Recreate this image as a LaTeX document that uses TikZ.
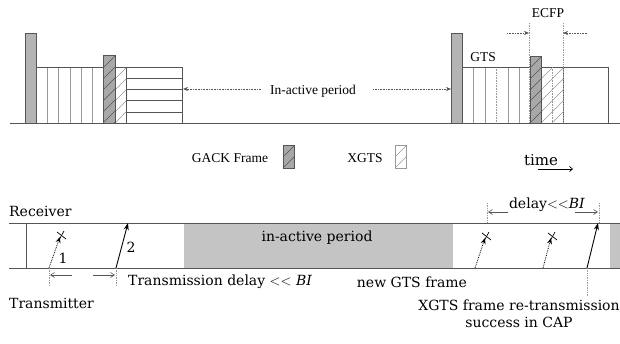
\documentclass[tikz,border=0pt]{standalone}
\usepackage{fontspec}
\setmainfont{Liberation Serif}
\newfontfamily\bigserif{DejaVu Serif}
\usetikzlibrary{arrows.meta}
\definecolor{edge}{HTML}{555555}
\definecolor{thin}{HTML}{999999}
\definecolor{barfill}{HTML}{B4B4B4}
\definecolor{ackfill}{HTML}{A8A8A8}
\definecolor{bandfill}{HTML}{C4C4C4}
\tikzset{
  frameline/.style={draw=edge, line width=0.9pt},
  slotline/.style={draw=thin, line width=0.6pt},
  slotdot/.style={draw=thin, line width=0.6pt, densely dotted},
  guide/.style={draw=thin, line width=0.7pt, densely dotted},
  guidearrow/.style={draw=edge, line width=0.6pt, densely dotted, -{Stealth[length=5pt,width=4pt]}},
  solidarrow/.style={draw=edge, line width=0.6pt, -{Straight Barb[length=4pt,width=5pt]}},
  topfont/.style={font=\fontsize{13.5}{15}\selectfont, inner sep=1pt},
  botfont/.style={font=\bigserif\fontsize{14}{17}\selectfont, inner sep=1pt},
  sendfail/.style={draw=black, line width=0.8pt, densely dotted, -{Stealth[length=6pt,width=5pt]}},
  sendok/.style={draw=black, line width=0.9pt, -{Stealth[length=7pt,width=5pt]}},
  cross/.style={draw=black, line width=0.7pt},
}
% hatched rectangle: corners (#1,#2)-(#3,#4), fill #5, hatch colour #6
\newcommand{\hatchbox}[6]{%
  \fill[#5] (#1,#2) rectangle (#3,#4);
  \begin{scope}
    \clip (#1,#2) rectangle (#3,#4);
    \foreach \k in {-44,-33,...,88} {
      \draw[draw=#6, line width=0.5pt] (#1,#4-\k) -- ++(40,-40);
    }
  \end{scope}
  \draw[frameline] (#1,#2) rectangle (#3,#4);
}
\begin{document}
\begin{tikzpicture}[x=1pt, y=-1pt]
\useasboundingbox (0,0) rectangle (620,343);
\fill[white] (0,0) rectangle (620,343);

% ---------- superframe view ----------
\draw[frameline] (10,123) -- (620,123);

% first active part
\fill[barfill] (25,33) rectangle (36,123);
\draw[frameline] (25,33) rectangle (36,123);
\foreach \x in {47,58,70,81,92} \draw[slotline] (\x,67) -- (\x,123);
\draw[frameline] (36,67) -- (103,67);
\hatchbox{103}{55}{115}{123}{ackfill}{edge}
\hatchbox{115}{67}{126}{123}{white}{thin}
\draw[frameline] (126,67) rectangle (182,123);
\foreach \y in {78,89,100,112} \draw[frameline] (126,\y) -- (182,\y);

% in-active period marker
\node[topfont] (inact) at (313,91) {In-active period};
\coordinate (inL) at (183,89);
\coordinate (inR) at (451,89);
\draw[guidearrow] (inact.west) ++(-8,-2) coordinate (inLs) -- (inL);
\draw[guidearrow] (inact.east) ++(16,-2) coordinate (inRs) -- (inR);

% second active part
\fill[barfill] (451,33) rectangle (462,123);
\draw[frameline] (451,33) rectangle (462,123);
\foreach \x in {473,485,508,519} \draw[slotline] (\x,67) -- (\x,123);
\draw[slotdot] (496,67) -- (496,123);
\draw[frameline] (462,67) -- (530,67);
\hatchbox{530}{56}{541}{123}{ackfill}{edge}
\hatchbox{541}{67}{563}{123}{white}{thin}
\draw[slotdot] (552,67) -- (552,123);
\draw[frameline] (563,67) rectangle (608,123);
\node[topfont] (gts) at (483,57) {GTS};

% ECFP extent
\coordinate (ecL) at (529,33);
\coordinate (ecR) at (563,33);
\draw[guide] (529,23) -- (529,123);
\draw[guide] (563,23) -- (563,123);
\coordinate (ecLs) at (507,33);
\coordinate (ecRs) at (587,33);
\draw[guidearrow] (ecLs) -- (ecL);
\draw[guidearrow] (ecRs) -- (ecR);
\node[topfont] (ecfp) at (548,13) {ECFP};

% legend
\node[topfont] (lgack) at (230,158) {GACK Frame};
\hatchbox{283}{145}{294}{168}{ackfill}{edge}
\node[topfont] (lxgts) at (365,158) {XGTS};
\begin{scope}
  \fill[white] (395,145) rectangle (406,168);
  \clip (395,145) rectangle (406,168);
  \draw[draw=thin, line width=0.5pt] (395,168) -- ++(40,-40);
  \draw[draw=thin, line width=0.5pt] (395,157) -- ++(40,-40);
\end{scope}
\draw[draw=thin, line width=0.8pt] (395,145) rectangle (406,168);
\node[botfont, font=\bigserif\fontsize{15}{18}\selectfont] (time) at (541,160) {time};
\coordinate (tA) at (538,169);
\coordinate (tB) at (573,169);
\draw[draw=black, line width=0.7pt, -{Straight Barb[length=3pt,width=5pt]}] (tA) -- (tB);

% ---------- transmission timeline ----------
\fill[bandfill] (184,223) rectangle (453,268);
\fill[bandfill] (610,223) rectangle (620,268);
\draw[frameline] (9,223) -- (620,223);
\draw[frameline] (9,268) -- (620,268);
\draw[frameline] (26,223) -- (26,268);

\node[botfont, anchor=west] (rx) at (8,211) {Receiver};
\node[botfont, anchor=west] (tx) at (8,303) {Transmitter};
\node[botfont] (band) at (317,238) {in-active period};

% first attempt fails, second succeeds
\coordinate (s1) at (49,268);
\coordinate (e1) at (60,237);
\draw[sendfail] (s1) -- (e1);
\draw[cross] (57,232) -- (66,239);
\draw[cross] (59,240) -- (64,231);
\node[botfont] (n1) at (63,258) {1};

\coordinate (s2) at (116,268);
\coordinate (e2) at (128,223);
\draw[sendok] (s2) -- (e2);
\node[botfont] (n2) at (131,247) {2};

% transmission delay
\draw[guide] (49,268) -- (49,286);
\draw[guide] (116,268) -- (116,286);
\coordinate (d1) at (72,275);
\coordinate (d1e) at (50,275);
\coordinate (d2) at (93,275);
\coordinate (d2e) at (115,275);
\draw[solidarrow] (d1) -- (d1e);
\draw[solidarrow] (d2) -- (d2e);
\node[botfont, anchor=west] (tdelay) at (127,282) {Transmission delay $<<$ \textit{BI}};

% later failed GTS frames
\coordinate (s3) at (475,268);
\coordinate (e3) at (485,238);
\draw[sendfail] (s3) -- (e3);
\draw[cross] (482,233) -- (491,240);
\draw[cross] (484,241) -- (489,232);
\coordinate (s4) at (543,268);
\coordinate (e4) at (551,238);
\draw[sendfail] (s4) -- (e4);
\draw[cross] (548,233) -- (557,240);
\draw[cross] (550,241) -- (555,232);
\node[botfont] (newgts) at (412,282) {new GTS frame};

% re-transmission in CAP
\coordinate (s5) at (587,268);
\coordinate (e5) at (598,223);
\draw[sendok] (s5) -- (e5);
\draw[guide] (587,268) -- (587,296);
\draw[guide] (487,203) -- (487,223);
\draw[guide] (599,203) -- (599,223);
\node[botfont] (dly) at (547,205) {delay$<<$\textit{BI}};
\coordinate (dl1) at (508,212);
\coordinate (dl1e) at (488,212);
\coordinate (dl2) at (575,212);
\coordinate (dl2e) at (598,212);
\draw[solidarrow] (dl1) -- (dl1e);
\draw[solidarrow] (dl2) -- (dl2e);
\node[botfont, align=center] (retx) at (519,314) {XGTS frame re-transmission\\success in CAP};
\end{tikzpicture}
\end{document}
